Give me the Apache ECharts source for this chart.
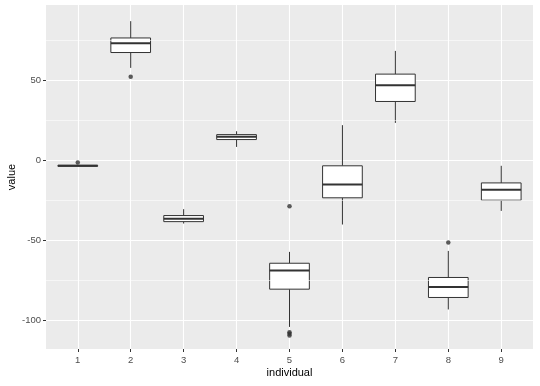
<!DOCTYPE html>
<html>
<head>
<meta charset="utf-8">
<script src="https://cdn.jsdelivr.net/npm/echarts@6/dist/echarts.min.js"></script>
<style>
html,body{margin:0;padding:0;background:#fff;}
#chart{width:540px;height:386px;}
</style>
</head>
<body>
<div id="chart"></div>
<script>
const categories = [1, 2, 3, 4, 5, 6, 7, 8, 9];
const boxMin    = [-3.8, 57.7, -39.6,  8.3, -104.2, -40.2, 23.3, -93.3, -31.7];
const boxQ1     = [-3.8, 67.3, -38.4, 12.9,  -80.6, -23.5, 36.7, -85.8, -25.0];
const boxMedian = [-3.5, 73.1, -36.6, 14.6,  -68.9, -15.2, 46.9, -79.2, -18.5];
const boxQ3     = [-3.2, 76.4, -34.6, 16.0,  -64.4,  -3.5, 53.8, -73.3, -14.2];
const boxMax    = [-3.2, 86.9, -30.6, 18.1,  -57.3,  21.9, 68.3, -56.7,  -3.5];
const outlierGroup = [1, 2, 5, 5, 5, 5, 8];
const outlierValue = [-1.5, 52.1, -28.8, -107.5, -108.5, -109.5, -51.5];
const yTicks = [-100, -50, 0, 50];
const yMinorGrid = [-75, -25, 25, 75];

const boxData = categories.map((c, i) => [c, boxMin[i], boxQ1[i], boxMedian[i], boxQ3[i], boxMax[i]]);
const outlierData = outlierGroup.map((g, i) => [g, outlierValue[i]]);

const chart = echarts.init(document.getElementById('chart'), null, {renderer: 'canvas'});
const stroke = '#333333';
const option = {
  animation: false,
  grid: {left: 46, right: 7, top: 5, bottom: 37, show: true, backgroundColor: '#EBEBEB', borderWidth: 0,
         containLabel: false, outerBoundsMode: 'none'},
  xAxis: {
    type: 'value', min: 0.4, max: 9.6,
    name: 'individual', nameLocation: 'middle', nameGap: 18, nameMoveOverlap: false,
    nameTextStyle: {color: '#000', fontSize: 11, fontFamily: 'Liberation Sans'},
    axisLine: {show: false, onZero: false},
    axisTick: {show: true, customValues: categories, length: 3, lineStyle: {color: stroke, width: 1}},
    axisLabel: {customValues: categories, color: '#4D4D4D', fontSize: 9.5, margin: 6, fontFamily: 'Liberation Sans'},
    splitLine: {show: true, lineStyle: {color: '#fff', width: 1.1}}
  },
  yAxis: {
    type: 'value', min: -118, max: 97,
    name: 'value', nameLocation: 'middle', nameGap: 29, nameRotate: 90, nameMoveOverlap: false,
    nameTextStyle: {color: '#000', fontSize: 11, fontFamily: 'Liberation Sans'},
    axisLine: {show: false, onZero: false},
    axisTick: {show: true, customValues: yTicks, length: 3, lineStyle: {color: stroke, width: 1}},
    axisLabel: {customValues: yTicks, color: '#4D4D4D', fontSize: 9.5, margin: 5, fontFamily: 'Liberation Sans'},
    splitLine: {show: true, lineStyle: {color: '#fff', width: 1.1}}
  },
  series: [
    {
      type: 'line', data: [], z: 1, silent: true,
      markLine: {
        silent: true, symbol: ['none', 'none'], label: {show: false},
        lineStyle: {color: '#fff', width: 0.55, type: 'solid'},
        emphasis: {disabled: true},
        data: yMinorGrid.map(v => ({yAxis: v}))
      }
    },
    {
      type: 'custom', z: 3, data: boxData,
      encode: {x: 0, y: [1, 2, 3, 4, 5]},
      renderItem: function (params, api) {
        const x = api.value(0);
        const halfW = api.size([0.75, 0])[0] / 2;
        const pMin = api.coord([x, api.value(1)]);
        const pQ1 = api.coord([x, api.value(2)]);
        const pMed = api.coord([x, api.value(3)]);
        const pQ3 = api.coord([x, api.value(4)]);
        const pMax = api.coord([x, api.value(5)]);
        const cx = pMin[0];
        const ls = {stroke: stroke, lineWidth: 1};
        return {
          type: 'group',
          children: [
            {type: 'line', shape: {x1: cx, y1: pMax[1], x2: cx, y2: pQ3[1]}, style: ls},
            {type: 'line', shape: {x1: cx, y1: pQ1[1], x2: cx, y2: pMin[1]}, style: ls},
            {type: 'rect', shape: {x: cx - halfW, y: pQ3[1], width: 2 * halfW, height: pQ1[1] - pQ3[1]},
             style: {fill: '#fff', stroke: stroke, lineWidth: 1}},
            {type: 'line', shape: {x1: cx - halfW, y1: pMed[1], x2: cx + halfW, y2: pMed[1]},
             style: {stroke: stroke, lineWidth: 2}}
          ]
        };
      }
    },
    {
      type: 'scatter', z: 4, data: outlierData, symbol: 'circle', symbolSize: 4.5,
      itemStyle: {color: stroke}
    }
  ]
};
chart.setOption(option);
</script>
</body>
</html>
